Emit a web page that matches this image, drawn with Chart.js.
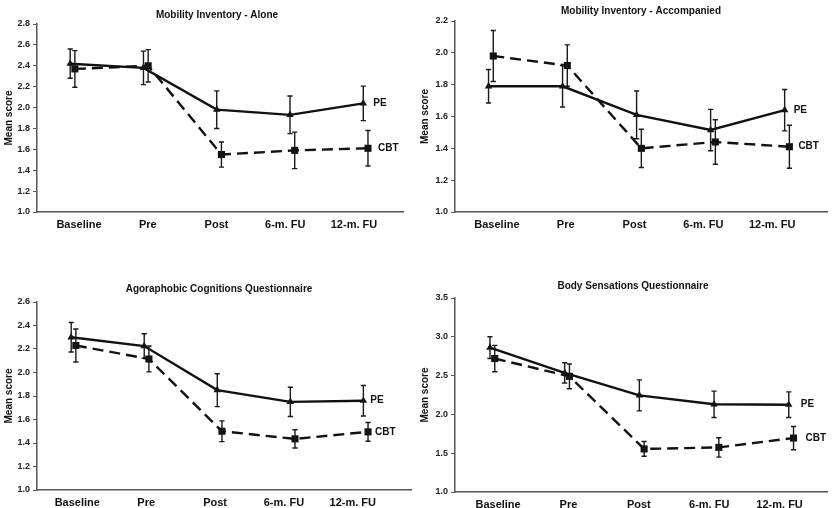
<!DOCTYPE html>
<html>
<head>
<meta charset="utf-8">
<script src="https://cdn.jsdelivr.net/npm/chart.js@4.4.1/dist/chart.umd.min.js"></script>
<style>
  body { margin: 0; background: #fff; }
  #wrap { position: relative; width: 832px; height: 508px; overflow: hidden; }
  canvas { position: absolute; }
</style>
</head>
<body>
<div id="wrap">
  <canvas id="c1" width="416" height="250" style="left:0;top:0"></canvas>
  <canvas id="c2" width="416" height="250" style="left:416px;top:0"></canvas>
  <canvas id="c3" width="416" height="258" style="left:0;top:250px"></canvas>
  <canvas id="c4" width="416" height="258" style="left:416px;top:250px"></canvas>
</div>
<script>
var categories = ['Baseline', 'Pre', 'Post', '6-m. FU', '12-m. FU'];

// Mobility Inventory - Alone
var aloneTicks = [1.0, 1.2, 1.4, 1.6, 1.8, 2.0, 2.2, 2.4, 2.6, 2.8];
var alonePE = [2.42, 2.38, 1.98, 1.93, 2.04];
var alonePEErr = [0.14, 0.16, 0.18, 0.18, 0.165];
var aloneCBT = [2.37, 2.40, 1.55, 1.59, 1.61];
var aloneCBTErr = [0.175, 0.155, 0.12, 0.175, 0.17];

// Mobility Inventory - Accompanied
var accTicks = [1.0, 1.2, 1.4, 1.6, 1.8, 2.0, 2.2];
var accPE = [1.79, 1.79, 1.61, 1.515, 1.64];
var accPEErr = [0.105, 0.13, 0.15, 0.13, 0.13];
var accCBT = [1.98, 1.92, 1.40, 1.44, 1.41];
var accCBTErr = [0.16, 0.13, 0.12, 0.14, 0.135];

// Agoraphobic Cognitions Questionnaire
var acqTicks = [1.0, 1.2, 1.4, 1.6, 1.8, 2.0, 2.2, 2.4, 2.6];
var acqPE = [2.30, 2.225, 1.85, 1.75, 1.76];
var acqPEErr = [0.125, 0.105, 0.14, 0.125, 0.13];
var acqCBT = [2.23, 2.115, 1.50, 1.435, 1.495];
var acqCBTErr = [0.14, 0.11, 0.088, 0.078, 0.08];

// Body Sensations Questionnaire
var bsqTicks = [1.0, 1.5, 2.0, 2.5, 3.0, 3.5];
var bsqPE = [2.86, 2.535, 2.245, 2.13, 2.125];
var bsqPEErr = [0.14, 0.13, 0.2, 0.17, 0.165];
var bsqCBT = [2.72, 2.49, 1.555, 1.575, 1.695];
var bsqCBTErr = [0.17, 0.16, 0.095, 0.125, 0.15];

var FONT = '"Liberation Sans", Arial, Helvetica, sans-serif';
Chart.defaults.font.family = FONT;
Chart.defaults.color = '#111';

// small x shift so the two groups don't sit exactly on top of each other
var SHIFT = 0.032;

function toPoints(vals, dx) {
  return vals.map(function (v, i) { return { x: i + dx, y: v }; });
}

// error bars + end-of-line series labels
var errorBars = {
  id: 'errorBars',
  afterDatasetsDraw: function (chart, args, opts) {
    var ctx = chart.ctx;
    var xs = chart.scales.x, ys = chart.scales.y;
    chart.data.datasets.forEach(function (ds) {
      ctx.save();
      ctx.strokeStyle = '#1a1a1a';
      ctx.lineWidth = 1.4;
      ds.data.forEach(function (p, i) {
        var x = xs.getPixelForValue(p.x);
        var top = ys.getPixelForValue(p.y + ds.err[i]);
        var bot = ys.getPixelForValue(p.y - ds.err[i]);
        ctx.beginPath();
        ctx.moveTo(x, top); ctx.lineTo(x, bot);
        ctx.moveTo(x - 2.6, top); ctx.lineTo(x + 2.6, top);
        ctx.moveTo(x - 2.6, bot); ctx.lineTo(x + 2.6, bot);
        ctx.stroke();
      });
      var last = ds.data[ds.data.length - 1];
      ctx.fillStyle = '#111';
      ctx.font = 'bold 10px ' + FONT;
      ctx.textAlign = 'left';
      ctx.textBaseline = 'middle';
      ctx.fillText(ds.label, xs.getPixelForValue(last.x) + opts.gap, ys.getPixelForValue(last.y));
      ctx.restore();
    });
  }
};

var panelTitle = {
  id: 'panelTitle',
  afterDraw: function (chart, args, opts) {
    var ctx = chart.ctx;
    ctx.save();
    ctx.fillStyle = '#111';
    ctx.font = 'bold 10px ' + FONT;
    ctx.textAlign = 'center';
    ctx.textBaseline = 'middle';
    ctx.fillText(opts.text, opts.x, opts.y);
    ctx.restore();
  }
};

var panels = [
  { id: 'c1', title: 'Mobility Inventory - Alone', ticks: aloneTicks,
    pe: alonePE, peErr: alonePEErr, cbt: aloneCBT, cbtErr: aloneCBTErr,
    top: 24, right: 13, yw: 37, xh: 38, tx: 217, ty: 15,
    xr: [-0.485, 4.51], lr: [-0.611, 4.713], gap: 10 },
  { id: 'c2', title: 'Mobility Inventory - Accompanied', ticks: accTicks,
    pe: accPE, peErr: accPEErr, cbt: accCBT, cbtErr: accCBTErr,
    top: 21, right: 4, yw: 39, xh: 38, tx: 225, ty: 11,
    xr: [-0.485, 4.54], lr: [-0.609, 4.797], gap: 9 },
  { id: 'c3', title: 'Agoraphobic Cognitions Questionnaire', ticks: acqTicks,
    pe: acqPE, peErr: acqPEErr, cbt: acqCBT, cbtErr: acqCBTErr,
    top: 52, right: 3, yw: 37, xh: 18, tx: 219, ty: 39,
    xr: [-0.5, 4.62], lr: [-0.585, 4.845], gap: 7 },
  { id: 'c4', title: 'Body Sensations Questionnaire', ticks: bsqTicks,
    pe: bsqPE, peErr: bsqPEErr, cbt: bsqCBT, cbtErr: bsqCBTErr,
    top: 48, right: 3, yw: 39, xh: 16, tx: 217, ty: 36,
    xr: [-0.5, 4.48], lr: [-0.612, 4.674], gap: 12 }
];

panels.forEach(function (p) {
  new Chart(document.getElementById(p.id).getContext('2d'), {
    type: 'line',
    data: {
      datasets: [{
        label: 'PE',
        data: toPoints(p.pe, -SHIFT),
        err: p.peErr,
        borderColor: '#111',
        backgroundColor: '#111',
        borderWidth: 2.4,
        pointStyle: 'triangle',
        pointRadius: 4.3,
        pointBorderWidth: 0,
        tension: 0
      }, {
        label: 'CBT',
        data: toPoints(p.cbt, SHIFT),
        err: p.cbtErr,
        borderColor: '#111',
        backgroundColor: '#111',
        borderWidth: 2.4,
        borderDash: [11, 6],
        pointStyle: 'rect',
        pointRadius: 5,
        pointBorderWidth: 0,
        tension: 0
      }]
    },
    options: {
      responsive: false,
      animation: false,
      layout: { padding: { top: p.top, right: p.right, left: 0, bottom: 0 } },
      plugins: {
        legend: { display: false },
        tooltip: { enabled: false },
        errorBars: { gap: p.gap },
        panelTitle: { text: p.title, x: p.tx, y: p.ty }
      },
      scales: {
        x: { type: 'linear', display: false, min: p.xr[0], max: p.xr[1] },
        xl: {
          type: 'linear', position: 'bottom', min: p.lr[0], max: p.lr[1],
          afterBuildTicks: function (s) { s.ticks = categories.map(function (c, i) { return { value: i }; }); },
          afterFit: function (s) { s.height = p.xh; },
          grid: { drawOnChartArea: false, drawTicks: false },
          border: { display: true, color: '#555', width: 1.5 },
          ticks: {
            autoSkip: false, maxRotation: 0, padding: 6, color: '#111',
            font: { size: 11, weight: 'bold' },
            callback: function (v) { return categories[v]; }
          }
        },
        y: {
          min: p.ticks[0], max: p.ticks[p.ticks.length - 1],
          afterBuildTicks: function (s) { s.ticks = p.ticks.map(function (v) { return { value: v }; }); },
          afterFit: function (s) { s.width = p.yw; },
          grid: { drawOnChartArea: false, tickLength: 4, color: '#555' },
          border: { display: true, color: '#555', width: 1.5 },
          ticks: {
            padding: 3, color: '#222', font: { size: 9, weight: 'bold' },
            callback: function (v) { return v.toFixed(1); }
          },
          title: { display: true, text: 'Mean score', color: '#111',
                   font: { size: 10, weight: 'bold' }, padding: { top: 3, bottom: 0 } }
        }
      }
    },
    plugins: [errorBars, panelTitle]
  });
});
</script>
</body>
</html>
